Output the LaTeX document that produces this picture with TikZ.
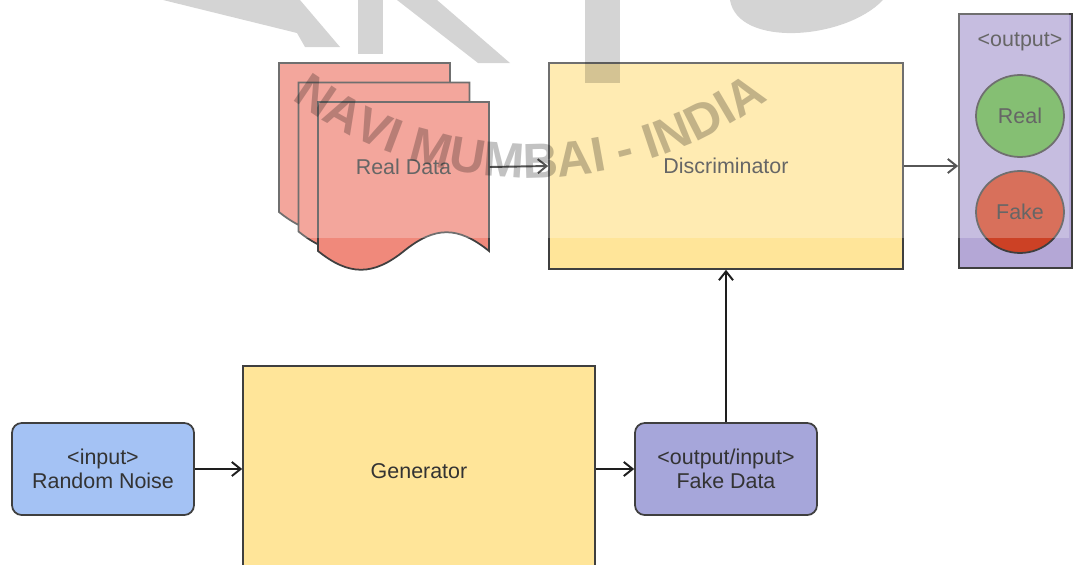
\documentclass[tikz,border=0pt]{standalone}
\usepackage{fontspec}
\setmainfont{Liberation Sans}
\usetikzlibrary{arrows.meta,decorations.text,shapes.geometric}
\definecolor{bordc}{HTML}{3F3F3F}
\definecolor{txtc}{HTML}{333333}
\definecolor{arrc}{HTML}{1E1E1E}
\definecolor{yel}{HTML}{FFE599}
\definecolor{blu}{HTML}{A4C2F4}
\definecolor{purp}{HTML}{A6A6DA}
\definecolor{outc}{HTML}{B4A7D6}
\definecolor{grn}{HTML}{5DAA45}
\definecolor{redc}{HTML}{CC4125}
\definecolor{sheetc}{HTML}{F0897B}
\newcommand\docsheet[2]{\filldraw[sheet] (#1,#2) -- ++(171,0) -- ++(0,149)
  .. controls +(-31,-25) and +(31,-25) .. ++(-85,0)
  .. controls +(-31,25) and +(31,25) .. ++(-86,0) -- cycle;}
\begin{document}
\begin{tikzpicture}[x=0.02cm,y=-0.02cm,
  font=\fontsize{12.2}{13.6}\selectfont,
  box/.style={draw=bordc, line width=1pt, text=txtc, align=center, inner sep=0pt},
  rbox/.style={box, rounded corners=5.5pt},
  circ/.style={box, ellipse, minimum width=1.76cm, minimum height=1.64cm},
  sheet/.style={draw=bordc, line width=1pt, fill=sheetc},
  arr/.style={-{Straight Barb[length=5pt,width=8pt]}, line width=1.1pt, draw=arrc},
  wm/.style={black, opacity=0.17}]
\useasboundingbox (0,0) rectangle (1073,565);

% Real data documents
\docsheet{279}{63}
\docsheet{298.5}{82.5}
\docsheet{318}{102}
\node[text=txtc, minimum width=3.42cm, inner sep=0pt] (realdata) at (403.5,167) {Real Data};

% main boxes
\node[box, fill=yel, minimum width=7.08cm, minimum height=4.12cm] (disc) at (726,166) {Discriminator};
\node[box, fill=yel, minimum width=7.04cm, minimum height=4.2cm] (gen) at (419,471) {Generator};
\node[rbox, fill=blu, minimum width=3.64cm, minimum height=1.84cm] (noise) at (103,469) {<input>\\Random Noise};
\node[rbox, fill=purp, minimum width=3.64cm, minimum height=1.84cm] (fake) at (726,469) {<output/input>\\Fake Data};

% output panel
\node[box, fill=outc, minimum width=2.26cm, minimum height=5.08cm] (out) at (1015.5,141) {};
\node[text=txtc] (outlbl) at (1020,42) {<output>};
\node[circ, fill=grn] (real) at (1020,116) {Real};
\node[circ, fill=redc] (fakec) at (1020,212) {Fake};

% connectors
\draw[arr] (realdata.east) -- (disc.west);
\draw[arr] (disc.east) -- (disc.east -| out.west);
\draw[arr] (noise.east) -- (noise.east -| gen.west);
\draw[arr] (gen.east |- fake.west) -- (fake.west);
\draw[arr] (fake.north) -- (disc.south);

% watermark
\fill[white, opacity=0.25] (0,0) rectangle (1069,238);
\fill[wm] (163,0) -- (300,0) -- (340,47) -- (305,47) -- (297,33) -- cycle;
\fill[wm] (358,0) rectangle (383,54);
\fill[wm] (397,0) -- (437,0) -- (510,63) -- (478,63) -- cycle;
\fill[wm] (585,0) rectangle (620,83);
\fill[wm] (730,0) .. controls (738,48) and (845,40) .. (883,0) -- cycle;
\begin{scope}[opacity=0.24]
\path[decorate, decoration={text along path, text align=center,
  text format delimiters={|}{|},
  text={|\fontsize{28}{30}\selectfont\bfseries|NAVI MUMBAI - INDIA}}]
  (530,-222) ++(128:400) arc[start angle=128, end angle=52, radius=400];
\end{scope}
\end{tikzpicture}
\end{document}
